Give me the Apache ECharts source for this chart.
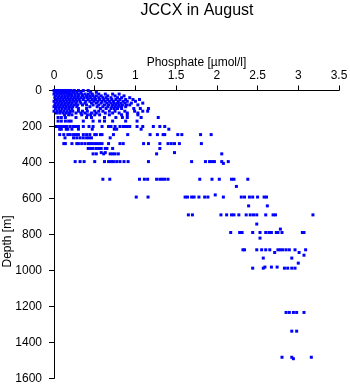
<!DOCTYPE html>
<html>
<head>
<meta charset="utf-8">
<script src="https://cdn.jsdelivr.net/npm/echarts@6/dist/echarts.min.js"></script>
<style>html,body{margin:0;padding:0;background:#fff}#c{width:350px;height:384px}</style>
</head>
<body>
<div id="c"></div>
<script>
// Phosphate [µmol/l] values observed at each depth [m]
const d0 = [0.00,0.02,0.04,0.06,0.08,0.10,0.12,0.14,0.16,0.18,0.21,0.25,0.30,0.36,0.42];
const d10 = [0.01,0.03,0.05,0.07,0.09,0.11,0.13,0.15,0.17,0.20,0.24,0.28,0.33,0.45,0.52];
const d20 = [0.00,0.04,0.08,0.12,0.16,0.19,0.22,0.26,0.30,0.34,0.38,0.42,0.47,0.55,0.63,0.72,0.80];
const d30 = [0.02,0.06,0.10,0.14,0.18,0.22,0.26,0.30,0.35,0.40,0.44,0.48,0.52,0.58,0.66,0.75,0.86];
const d40 = [0.01,0.05,0.09,0.13,0.17,0.21,0.25,0.29,0.33,0.37,0.41,0.45,0.50,0.55,0.60,0.64,0.70,0.78,0.83,0.93];
const d50 = [0.03,0.07,0.11,0.15,0.19,0.23,0.27,0.31,0.36,0.42,0.47,0.51,0.56,0.61,0.66,0.71,0.76,0.81,0.88,0.97,1.05];
const d60 = [0.00,0.04,0.08,0.12,0.16,0.20,0.24,0.28,0.32,0.39,0.44,0.49,0.54,0.59,0.63,0.68,0.73,0.79,0.85,0.90,1.00];
const d70 = [0.02,0.06,0.10,0.14,0.18,0.22,0.27,0.33,0.38,0.46,0.52,0.58,0.65,0.70,0.74,0.78,0.82,0.87,0.95,1.09];
const d80 = [0.01,0.05,0.09,0.13,0.17,0.21,0.25,0.29,0.35,0.40,0.48,0.55,0.62,0.67,0.72,0.76,0.80,0.84,0.89,0.93,1.03];
const d90 = [0.00,0.03,0.07,0.11,0.15,0.19,0.23,0.28,0.44,0.53,0.60,0.66,0.71,0.75,0.79,0.83,0.88];
const d100 = [0.02,0.06,0.10,0.14,0.18,0.22,0.30,0.40,0.57,0.64,0.70,0.74,0.78,0.83,0.98,1.06,1.16];
const d115 = [0.00,0.04,0.08,0.12,0.16,0.20,0.23,0.30,0.35,0.41,0.50,0.55,0.60,0.68,0.75,0.87,0.99,1.09,1.15];
const d125 = [0.03,0.07,0.11,0.15,0.19,0.27,0.33,0.38,0.46,0.52,0.63,0.72,0.80,0.90,1.03];
const d135 = [0.13,0.18,0.22,0.34,0.41,0.45,0.50,0.56,0.68,0.83,0.90,1.03];
const d150 = [0.05,0.09,0.14,0.27,0.40,0.46,0.62,0.76,0.84,0.90,1.07,1.28];
const d170 = [0.05,0.09,0.14,0.18,0.21,0.36,0.48,0.56,0.62,0.72,0.88,1.02];
const d200 = [0.03,0.06,0.09,0.12,0.14,0.16,0.20,0.24,0.27,0.30,0.36,0.43,0.48,0.59,0.67,0.70,0.75,0.81,0.85,0.87,0.90,0.93,1.02,1.09,1.22,1.30,1.36];
const d215 = [0.07,0.09,0.15,0.17,0.22,0.30,0.47,0.74,0.77,1.07,1.41];
const d245 = [0.07,0.12,0.17,0.20,0.24,0.27,0.30,0.36,0.40,0.44,0.50,0.52,0.57,0.59,0.73,0.905,1.18,1.27,1.34,1.36,1.52,1.57,1.80,1.93];
const d263 = [0.135,0.24,0.28,0.32,0.36,0.40,0.43,0.46,0.69];
const d295 = [0.12,0.14,0.22,0.28,0.30,0.34,0.38,0.42,0.44,0.47,0.50,0.53,0.56,0.59,0.67,0.81,0.85,1.10,1.16,1.30,1.40,1.44,1.48,1.54,1.81];
const d322 = [0.42,0.45,0.48,0.52,0.55,0.58,0.63,0.65,0.72,1.30];
const d345 = [0.58,0.63,1.48];
const d352 = [0.48,0.52,0.61,0.69,0.72,0.75,0.79,1.26,2.06];
const d395 = [0.26,0.32,0.37,0.50,0.62,0.67,0.70,0.73,0.77,0.81,0.86,0.91,1.16,1.69,1.86,1.91,1.94,1.97,2.06,2.14];
const d405 = [2.08];
const d493 = [0.60,0.685,1.05,1.11,1.15,1.26,1.30,1.33,1.36,1.40,1.79,1.94,2.03,2.18,2.21,2.38];
const d533 = [2.24];
const d580 = [1.98];
const d592 = [1.01,1.155,1.61,1.64,1.69,1.72,1.78,1.85,1.89,2.08,2.30,2.34,2.40,2.44,2.50,2.58,2.61];
const d641 = [2.39,2.62];
const d691 = [1.65,1.70,2.05,2.12,2.18,2.21,2.27,2.36,2.41,2.45,2.49,2.60,2.69,2.72,3.18];
const d742 = [2.49];
const d770 = [2.78];
const d789 = [2.17,2.28,2.31,2.44,2.53,2.60,2.64,2.67,2.73,2.75,2.80,3.05,3.07];
const d820 = [2.53];
const d885 = [2.32,2.34,2.49,2.55,2.60,2.65,2.75,2.78,2.81,2.85,2.89,2.96,3.09];
const d900 = [2.71,3.01];
const d915 = [3.07];
const d931 = [2.57,2.92];
const d959 = [3.00];
const d981 = [2.59,2.67,2.74];
const d987 = [2.44,2.57,2.83,2.87,2.92,2.96];
const d1233 = [2.85,2.89,2.94,2.98,3.07];
const d1337 = [2.92,2.98];
const d1482 = [2.80,2.92,3.16];
const d1490 = [2.94];

const depthLevels = [0,10,20,30,40,50,60,70,80,90,100,115,125,135,150,170,200,215,245,263,295,322,345,352,395,405,493,533,580,592,641,691,742,770,789,820,885,900,915,931,959,981,987,1233,1337,1482,1490];
const phosphateByLevel = [d0,d10,d20,d30,d40,d50,d60,d70,d80,d90,d100,d115,d125,d135,d150,d170,d200,d215,d245,d263,d295,d322,d345,d352,d395,d405,d493,d533,d580,d592,d641,d691,d742,d770,d789,d820,d885,d900,d915,d931,d959,d981,d987,d1233,d1337,d1482,d1490];

const xTicks = [0,0.5,1,1.5,2,2.5,3,3.5];
const yTicks = [0,200,400,600,800,1000,1200,1400,1600];

const points = [];
depthLevels.forEach((d, i) => phosphateByLevel[i].forEach(p => points.push([p, d])));

const font = 'Liberation Sans, Arial, sans-serif';
const chart = echarts.init(document.getElementById('c'), null, {renderer: 'canvas'});
chart.setOption({
  animation: false,
  backgroundColor: '#fff',
  title: {
    text: 'JCCX in August',
    left: 192, top: -2, textAlign: 'center',
    textStyle: {fontFamily: font, fontSize: 16, fontWeight: 'normal', color: '#000'}
  },
  grid: {left: 54, top: 90.5, width: 285, height: 288, containLabel: false, outerBoundsMode: 'none'},
  xAxis: {
    type: 'value', position: 'top',
    min: xTicks[0], max: xTicks[xTicks.length - 1], interval: 0.5,
    name: 'Phosphate [µmol/l]', nameLocation: 'middle', nameGap: 22, nameMoveOverlap: false,
    nameTextStyle: {fontFamily: font, fontSize: 12, color: '#000'},
    axisLine: {show: true, lineStyle: {color: '#000', width: 1}},
    axisTick: {show: true, length: 5, lineStyle: {color: '#000'}},
    axisLabel: {fontFamily: font, fontSize: 12, color: '#000', margin: 9, formatter: v => String(v)},
    splitLine: {show: false}
  },
  yAxis: {
    type: 'value', inverse: true,
    min: yTicks[0], max: yTicks[yTicks.length - 1], interval: 200,
    name: 'Depth [m]', nameLocation: 'middle', nameGap: 40, nameRotate: 90, nameMoveOverlap: false,
    nameTextStyle: {fontFamily: font, fontSize: 12, color: '#000', padding: [0, 14, 0, 0]},
    axisLine: {show: true, lineStyle: {color: '#000', width: 1}},
    axisTick: {show: true, length: 5, lineStyle: {color: '#000'}},
    axisLabel: {fontFamily: font, fontSize: 12, color: '#000', margin: 12, formatter: v => String(v)},
    splitLine: {show: false}
  },
  series: [{
    type: 'scatter',
    data: points,
    symbol: 'rect',
    symbolSize: 3,
    itemStyle: {color: '#0000ff', opacity: 1},
    silent: true
  }]
});
</script>
</body>
</html>
